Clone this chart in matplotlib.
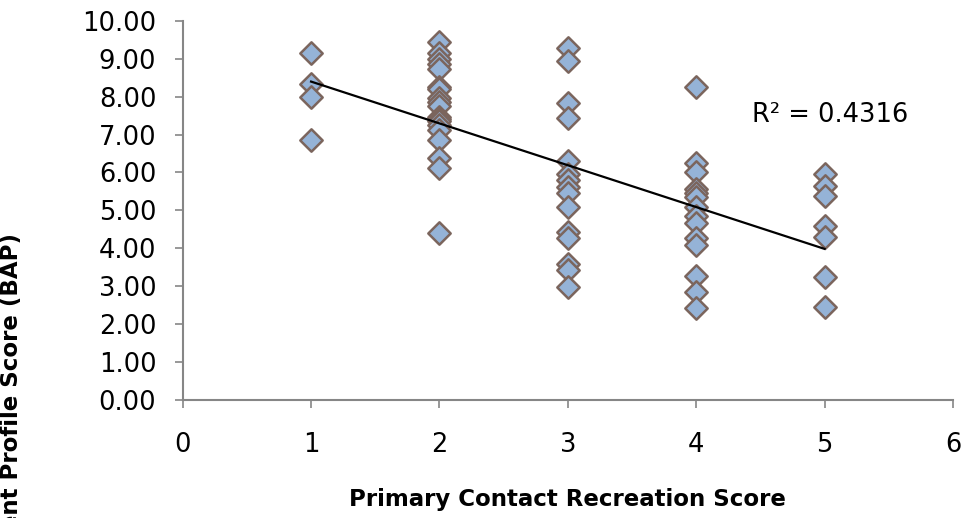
import numpy as np
import matplotlib
matplotlib.use("Agg")
import matplotlib.pyplot as plt
from matplotlib.ticker import FormatStrFormatter

# scores, grouped by primary contact recreation score
pcr_1 = [9.15, 8.33, 8.00, 6.85]
pcr_2 = [9.45, 9.15, 9.00, 8.85, 8.72, 8.26, 8.20, 7.95, 7.85, 7.75,
         7.45, 7.40, 7.35, 7.25, 7.12, 6.85, 6.38, 6.12, 4.40]
pcr_3 = [9.27, 8.95, 7.84, 7.43, 6.30, 5.95, 5.80, 5.62, 5.45, 5.08,
         4.44, 4.26, 3.58, 3.42, 2.99]
pcr_4 = [8.25, 6.24, 6.00, 5.55, 5.45, 5.35, 5.10, 4.84, 4.66, 4.26,
         4.08, 3.28, 2.84, 2.42]
pcr_5 = [5.97, 5.64, 5.38, 4.58, 4.30, 3.24, 2.44]

groups = [pcr_1, pcr_2, pcr_3, pcr_4, pcr_5]
x = np.concatenate([[i + 1] * len(g) for i, g in enumerate(groups)])
y = np.concatenate(groups)

r2_label = "R\u00b2 = 0.4316"
x_title = "Primary Contact Recreation Score"
y_title = "Biological Assessment Profile Score (BAP)"

fig = plt.figure(figsize=(9.65, 5.18), dpi=100)
ax = fig.add_axes([0.1893, 0.2278, 0.7983, 0.7322])

ax.scatter(x, y, marker="D", s=130, facecolor="#95B3D7", edgecolor="#7B655D",
           linewidths=1.8, zorder=3)

# linear trendline over the data range
slope, icept = np.polyfit(x, y, 1)
xs = np.array([x.min(), x.max()])
ax.plot(xs, slope * xs + icept, color="black", lw=1.6, zorder=4)

fig.text(752 / 965, 1 - 115 / 518, r2_label, fontsize=18.5, va="center", ha="left")

ax.set_xlim(0, 6)
ax.set_ylim(0, 10)
ax.set_xticks(range(0, 7))
ax.set_yticks(np.arange(0, 11, 1))
ax.yaxis.set_major_formatter(FormatStrFormatter("%.2f"))

for side in ["top", "right"]:
    ax.spines[side].set_visible(False)
for side in ["left", "bottom"]:
    ax.spines[side].set_color("#868686")
    ax.spines[side].set_linewidth(1.5)
ax.tick_params(colors="#868686", labelcolor="black", labelsize=18.5, width=1.2, length=6)
ax.tick_params(axis="x", pad=17)
ax.tick_params(axis="y", pad=13)

ax.set_xlabel(x_title, fontsize=16.5, fontweight="bold", labelpad=22)
# the y title runs off the bottom edge, as in the reference
fig.text(12 / 965, 1 - 233 / 518, y_title, fontsize=16.5, fontweight="bold",
         rotation=90, ha="center", va="top")

fig.savefig("out.png", dpi=100)
